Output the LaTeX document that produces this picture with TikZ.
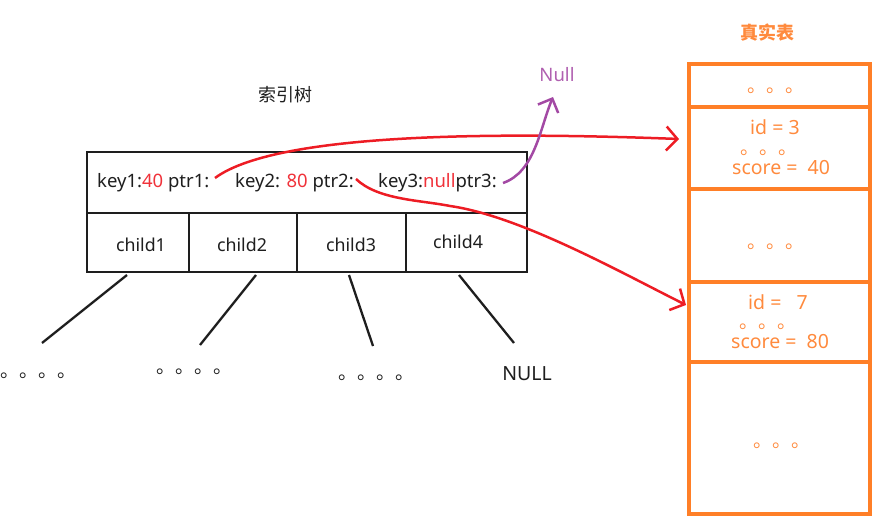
\documentclass[tikz,border=0pt]{standalone}
\usepackage{fontspec}
\setmainfont{Noto Sans}
\newfontfamily\cjk{Noto Sans CJK SC}
\usetikzlibrary{arrows.meta}
\definecolor{inkblack}{HTML}{1E1E1E}
\definecolor{paintorange}{HTML}{FF7F27}
\definecolor{orangetext}{HTML}{FF8A3D}
\definecolor{paintred}{HTML}{ED1C24}
\definecolor{redtext}{HTML}{F0323A}
\definecolor{paintpurple}{HTML}{A349A4}
\definecolor{purpletext}{HTML}{B060B0}
\tikzset{
  treecell/.style={draw=inkblack, line width=2.5pt, minimum width=#1, inner sep=0pt},
  keyrow/.style={treecell=440pt, minimum height=61pt},
  childcell/.style={treecell=#1, minimum height=59pt},
  tabrow/.style={draw=paintorange, line width=3.2pt, minimum width=181pt, minimum height=#1, inner sep=0pt},
  keytext/.style={anchor=base west, inner sep=0pt, text=inkblack, font=\fontsize{18.5}{20}\selectfont},
  childtext/.style={anchor=base, inner sep=0pt, text=inkblack, font=\fontsize{17.8}{20}\selectfont},
  tabtext/.style={anchor=base west, inner sep=0pt, text=orangetext, font=\fontsize{19.5}{21}\selectfont},
  dots/.style={anchor=base west, inner sep=0pt, text height=5pt, text depth=0pt, font=\cjk\fontsize{19}{20}\selectfont},
  branch/.style={draw=inkblack, line width=2.3pt},
  redarrow/.style={draw=paintred, line width=2.5pt, -{Straight Barb[length=11pt,width=24pt,line width=2.5pt]}},
  purplearrow/.style={draw=paintpurple, line width=2.5pt, -{Straight Barb[length=11pt,width=22pt,line width=2.5pt]}},
}
\begin{document}
\begin{tikzpicture}[x=1pt,y=-1pt]
\useasboundingbox (0,0) rectangle (890,529);
% titles
\node[inner sep=0pt, text=inkblack, font=\cjk\fontsize{18}{20}\selectfont] (treetitle) at (285,95) {索引树};
\node[inner sep=0pt, text=orangetext, font=\cjk\bfseries\fontsize{18}{20}\selectfont] (tabtitle) at (767,33) {真实表};
% tree node
\node[keyrow] (keys) at (307,182.5) {};
\node[childcell=102pt] (c1) at (138,242.5) {};
\node[childcell=108pt] (c2) at (243,242.5) {};
\node[childcell=109pt] (c3) at (351.5,242.5) {};
\node[childcell=121pt] (c4) at (466.5,242.5) {};
\node[keytext] (k1) at (97,188) {key1:\textcolor{redtext}{40} ptr1:};
\node[keytext] (k2) at (235,188) {key2: \textcolor{redtext}{80} ptr2:};
\node[keytext] (k3) at (378,188) {key3:\textcolor{redtext}{null}ptr3:};
\node[childtext] (t1) at (141,251) {child1};
\node[childtext] (t2) at (242,251) {child2};
\node[childtext] (t3) at (351,251) {child3};
\node[childtext] (t4) at (458,248) {child4};
% subtrees
\coordinate (b1) at (127,275); \coordinate (e1) at (42,343);
\coordinate (b2) at (256,275); \coordinate (e2) at (200,345);
\coordinate (b3) at (349,275); \coordinate (e3) at (373,346);
\coordinate (b4) at (459,275); \coordinate (e4) at (514,343);
\draw[branch] (b1) -- (e1);
\draw[branch] (b2) -- (e2);
\draw[branch] (b3) -- (e3);
\draw[branch] (b4) -- (e4);
\node[dots, text=inkblack] (d1) at (0,377) {。。。。};
\node[dots, text=inkblack] (d2) at (156,373) {。。。。};
\node[dots, text=inkblack] (d3) at (338,379) {。。。。};
\node[inner sep=0pt, text=inkblack, font=\fontsize{19.5}{21}\selectfont] (nullleaf) at (527,374) {NULL};
% table
\node[tabrow=43pt] (r1) at (779.5,85.5) {};
\node[tabrow=82pt] (r2) at (779.5,148) {};
\node[tabrow=93pt] (r3) at (779.5,235.5) {};
\node[tabrow=80pt] (r4) at (779.5,322) {};
\node[tabrow=152pt] (r5) at (779.5,438) {};
\node[dots, text=orangetext] (r1d) at (747,93) {。。。};
\node[tabtext] (id3) at (750,135) {id = 3};
\node[dots, text=orangetext] (r2d) at (740,155) {。。。};
\node[tabtext] (sc40) at (732,175) {score =\ \ 40};
\node[dots, text=orangetext] (r3d) at (747,248) {。。。};
\node[tabtext] (id7) at (748,309) {id =\ \ \ 7};
\node[dots, text=orangetext] (r4d) at (739,328) {。。。};
\node[tabtext] (sc80) at (731,348) {score =\ \ 80};
\node[dots, text=orangetext] (r5d) at (753,447) {。。。};
% pointers
\coordinate (p1) at (215,178);
\coordinate (p2) at (356,179);
\coordinate (p3) at (503,183);
\coordinate (a1) at (679,139);
\coordinate (a2) at (686,305);
\node[inner sep=0pt, text=purpletext, font=\fontsize{18.5}{20}\selectfont] (nullptr) at (557,75) {Null};
\coordinate (a3) at (553,97);
\draw[redarrow] (p1) .. controls (280,130) and (520,133) .. (a1);
\draw[redarrow] (p2) .. controls (378,200) and (420,200) .. (450,206) .. controls (520,216) and (620,272) .. (a2);
\draw[purplearrow] (p3) .. controls (535,172) and (540,128) .. (a3);
\end{tikzpicture}
\end{document}
